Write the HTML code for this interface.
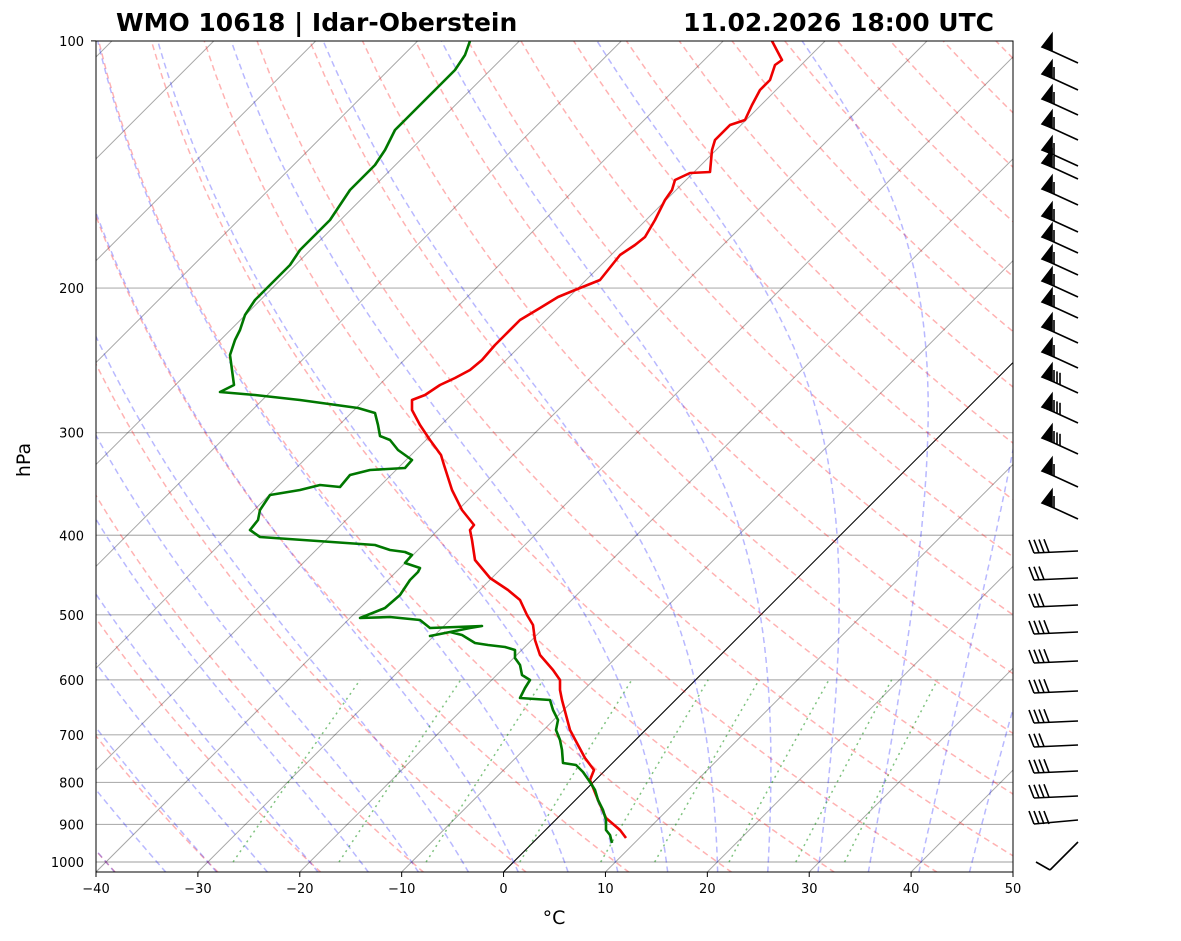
<!DOCTYPE html>
<html><head><meta charset="utf-8"><style>
body{margin:0;background:#fff;}
svg{display:block;font-family:"DejaVu Sans","Liberation Sans",sans-serif;}
</style></head><body>
<svg id="s" width="1181" height="941" xmlns="http://www.w3.org/2000/svg">
<defs><clipPath id="c"><rect x="96" y="41" width="917" height="831"/></clipPath></defs>
<g id="bg" clip-path="url(#c)"></g>
<g id="data" clip-path="url(#c)">
<polyline fill="none" stroke="#e00" stroke-width="2.6" stroke-linejoin="round" points="626,838 620,830 606,818 598,800 590,780 594,770 585,758 578,745 570,730 566,715 562,700 560,690 560,680 553,670 540,655 535,640 533,625 527,615 520,600 508,590 490,578 475,560 472,540 470,530 474,525 462,510 452,490 444,465 441,455 430,440 420,425 412,410 412,400 425,395 440,385 455,378 470,370 482,360 495,345 505,335 520,320 540,308 558,297 575,290 600,280 620,255 635,245 645,237 655,220 660,210 665,200 672,190 675,180 690,173 710,172 712,150 715,140 730,125 745,120 752,105 760,90 770,80 775,65 782,60 772,41"/>
<polyline fill="none" stroke="#070" stroke-width="2.6" stroke-linejoin="round" points="612,843 610,835 606,830 606,820 603,810 598,800 595,790 590,782 583,772 576,765 563,763 562,750 560,740 556,730 558,720 553,710 550,700 520,698 525,688 530,680 522,675 520,665 515,658 515,650 505,647 488,645 475,643 462,635 450,632 430,636 470,628 482,626 430,628 420,620 390,617 360,618 385,608 400,595 410,580 418,572 420,568 405,563 412,555 405,552 390,550 375,545 260,537 250,530 258,520 260,510 270,495 300,490 320,485 340,487 350,475 370,470 405,468 412,460 398,450 390,440 380,436 378,425 375,413 358,408 300,400 255,395 220,392 234,385 232,370 230,355 235,340 240,330 245,315 255,300 265,290 275,280 290,265 300,250 310,240 320,230 330,220 340,205 350,190 360,180 375,165 385,150 395,130 405,120 420,105 430,95 445,80 455,70 465,55 470,41"/>
</g>
<rect x="96" y="41" width="917" height="831" fill="none" stroke="#000" stroke-width="1"/>
<g id="ax" font-size="13"></g>
<text x="116" y="31" font-size="25" font-weight="bold">WMO 10618 | Idar-Oberstein</text>
<text x="994" y="31" font-size="25" font-weight="bold" text-anchor="end">11.02.2026 18:00 UTC</text>
<text x="554" y="924" font-size="19" text-anchor="middle">°C</text>
<text transform="translate(30,460) rotate(-90)" font-size="19" text-anchor="middle">hPa</text>
<g id="barbs" stroke="#000" stroke-width="1.6" fill="#000"></g>
</svg>
<script>
const NS="http://www.w3.org/2000/svg";
const K=356.6, X0=96, SC=917/90, YB=872;
function Y(p){return 862-K*Math.log(1000/p);}
function XY(T,p){const y=Y(p);return [X0+(T+40)*SC+(YB-y),y];}
function el(g,t,a){const e=document.createElementNS(NS,t);for(const k in a)e.setAttribute(k,a[k]);g.appendChild(e);return e;}
const bg=document.getElementById('bg'),ax=document.getElementById('ax');
const pmax=1030,pmin=100;
function pl(pts,st){el(bg,'polyline',Object.assign({fill:'none',points:pts.map(q=>q[0].toFixed(1)+','+q[1].toFixed(1)).join(' ')},st));}
[1000,900,800,700,600,500,400,300,200,100].forEach(p=>{
 el(bg,'line',{x1:96,x2:1013,y1:Y(p),y2:Y(p),stroke:'#b0b0b0','stroke-width':1.2});
 const t=el(ax,'text',{x:84,y:Y(p)+5,'text-anchor':'end'});t.textContent=p;});
for(let T=-40;T<=50;T+=10){const x=X0+(T+40)*SC;
 el(ax,'line',{x1:x,x2:x,y1:872,y2:877,stroke:'#000'});
 const t=el(ax,'text',{x:x,y:893,'text-anchor':'middle'});t.textContent=(T<0?'\u2212'+(-T):T);}
el(ax,'line',{x1:91,x2:96,y1:Y(100),y2:Y(100),stroke:'#000'});
for(let T=-140;T<=50;T+=10){pl([XY(T,pmax),XY(T,pmin)],{stroke:'#000','stroke-opacity':0.35,'stroke-width':1});}
pl([XY(0,pmax),XY(0,pmin)],{stroke:'#000','stroke-width':1});
for(let t0=-40;t0<=200;t0+=10){const th=t0+273.15,pts=[];
 for(let p=pmax;p>=pmin;p-=10)pts.push(XY(th*Math.pow(p/1000,0.2857)-273.15,p));
 pl(pts,{stroke:'#f00','stroke-opacity':0.3,'stroke-width':1.5,'stroke-dasharray':'6,4'});}
function es(Tc){return 6.112*Math.exp(17.67*Tc/(Tc+243.5));}
const Rd=287.04,Lv=2.501e6,Cp=1005.7,eps=0.622;
function dTdp(T,p){const e=es(T-273.15),rs=eps*e/(p-e);
 return (Rd*T+Lv*rs)/(Cp+Lv*Lv*rs*eps/(Rd*T*T))/p;}
const m0=[];for(let t=-50;t<=45.01;t+=5)m0.push(t);
m0.forEach(t0=>{let T=t0+273.15,p=1000;const up=[[T,p]];
 while(p>pmin){const h=-2;const k1=dTdp(T,p),k2=dTdp(T+h*k1/2,p+h/2);T+=h*k2;p+=h;up.push([T,p]);}
 T=t0+273.15;p=1000;const dn=[];while(p<pmax){const h=2;T+=h*dTdp(T,p);p+=h;dn.push([T,p]);}
 const all=dn.reverse().concat(up);
 pl(all.map(q=>XY(q[0]-273.15,q[1])),{stroke:'#00f','stroke-opacity':0.28,'stroke-width':1.5,'stroke-dasharray':'6,4'});});
[0.0004,0.001,0.002,0.004,0.007,0.01,0.016,0.024,0.032].forEach(w=>{const pts=[];
 for(let p=1000;p>=600;p-=20){const e=w*p/(eps+w),l=Math.log(e/6.112);pts.push(XY(243.5*l/(17.67-l),p));}
 pl(pts,{stroke:'#080','stroke-opacity':0.5,'stroke-width':1.5,'stroke-dasharray':'2,4'});});
const b=document.getElementById('barbs');
[47,74,99,124,150,163,189,216,237,259,281,302,327,352,377,407,438,471,503].forEach((y,i)=>{
 el(b,'line',{x1:1078,y1:y+16,x2:1043,y2:y});
 el(b,'polygon',{points:`1042,${y} 1052,${y-13} 1052,${y+4}`});
 const n=(i>13&&i<17)?3:(i==0?0:1);
 for(let k=0;k<n;k++){const x=1054+k*3,yy=y+5+k*1.4;el(b,'line',{x1:x,y1:yy,x2:x,y2:yy-12});}});
[551,578,605,632,661,691,721,745,771,796].forEach((y,i)=>{
 el(b,'line',{x1:1078,y1:y,x2:1034,y2:y+2});
 const n=(i==0||(i>=3&&i!=7))?4:3;
 for(let k=0;k<n;k++){const x=1034+k*5,yy=y+2-k*0.25;el(b,'line',{x1:x,y1:yy,x2:x-5,y2:yy-13});}});
el(b,'line',{x1:1078,y1:820,x2:1034,y2:824});
for(let k=0;k<4;k++)el(b,'line',{x1:1034+k*5,y1:824,x2:1029+k*5,y2:811});
el(b,'line',{x1:1078,y1:842,x2:1050,y2:870});
el(b,'line',{x1:1050,y1:870,x2:1036,y2:862});
</script>
</body></html>
